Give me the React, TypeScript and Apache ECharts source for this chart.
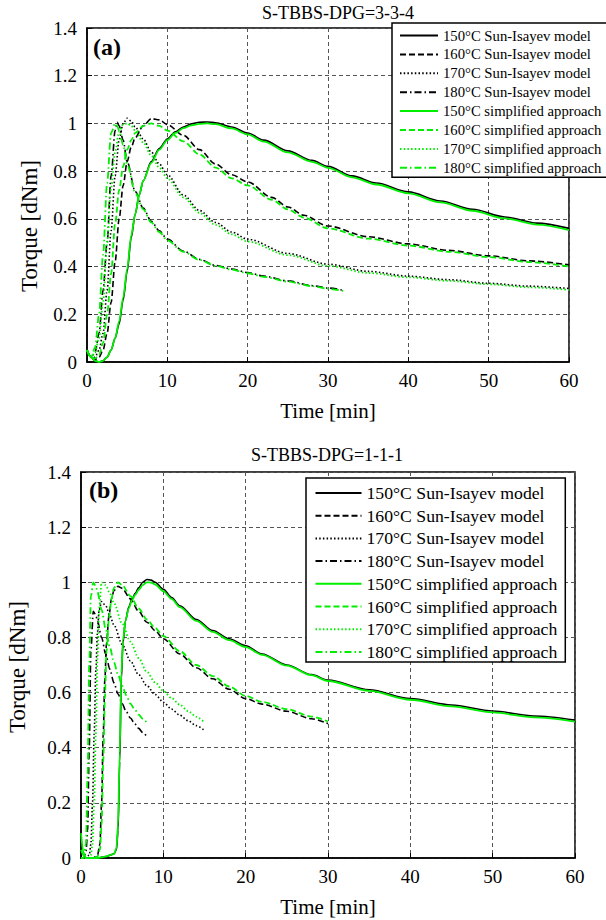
import React, { useEffect, useRef } from 'react';
import * as echarts from 'echarts';

const FONT = '"Liberation Serif", "Times New Roman", serif';
const BLACK = '#000000';
const GREEN = '#00ee00';

const NAMES = [
  '150°C Sun-Isayev model',
  '160°C Sun-Isayev model',
  '170°C Sun-Isayev model',
  '180°C Sun-Isayev model',
  '150°C simplified approach',
  '160°C simplified approach',
  '170°C simplified approach',
  '180°C simplified approach',
];

const X_TICKS = [0, 10, 20, 30, 40, 50, 60];
const Y_TICKS = [0, 0.2, 0.4, 0.6, 0.8, 1, 1.2, 1.4];

// ---------- Panel (a): S-TBBS-DPG=3-3-4 ----------
const aT150 = [0, 0.5, 1, 1.5, 2, 2.5, 3, 3.5, 4, 4.5, 5, 5.5, 6, 6.5, 7, 8, 9, 10, 11, 12, 13, 14, 15, 16, 18, 20, 22, 25, 28, 30, 33, 36, 40, 44, 48, 52, 56, 60];
const a150Sun = [0.05, 0.02, 0.005, 0.0, 0.005, 0.02, 0.05, 0.1, 0.16, 0.26, 0.38, 0.52, 0.62, 0.7, 0.76, 0.84, 0.895, 0.935, 0.965, 0.985, 0.998, 1.005, 1.006, 1.003, 0.985, 0.96, 0.93, 0.885, 0.845, 0.82, 0.78, 0.75, 0.713, 0.675, 0.64, 0.608, 0.582, 0.56];
const a150Simp = [0.05, 0.02, 0.005, 0.0, 0.005, 0.02, 0.05, 0.1, 0.17, 0.27, 0.39, 0.53, 0.62, 0.7, 0.76, 0.835, 0.89, 0.93, 0.96, 0.98, 0.992, 0.998, 1.0, 0.997, 0.979, 0.954, 0.924, 0.879, 0.839, 0.814, 0.774, 0.744, 0.707, 0.669, 0.634, 0.602, 0.576, 0.553];

const aT160 = [0, 0.5, 1, 1.5, 2, 2.5, 3, 3.5, 4, 4.5, 5, 5.5, 6, 7, 8, 9, 10, 12, 14, 16, 18, 20, 23, 25, 27, 30, 35, 40, 45, 50, 55, 60];
const a160Sun = [0.05, 0.02, 0.01, 0.02, 0.05, 0.12, 0.25, 0.42, 0.6, 0.74, 0.84, 0.9, 0.94, 0.99, 1.02, 1.015, 0.995, 0.95, 0.89, 0.83, 0.785, 0.755, 0.69, 0.65, 0.615, 0.57, 0.525, 0.495, 0.468, 0.445, 0.424, 0.407];
const a160Simp = [0.05, 0.02, 0.015, 0.03, 0.08, 0.2, 0.37, 0.58, 0.72, 0.82, 0.89, 0.93, 0.96, 0.99, 1.0, 0.99, 0.97, 0.925, 0.87, 0.815, 0.77, 0.74, 0.68, 0.64, 0.605, 0.56, 0.517, 0.488, 0.462, 0.44, 0.419, 0.4];

const aT170 = [0, 0.5, 1, 1.5, 2, 2.5, 3, 3.5, 4, 4.5, 5, 5.5, 6, 7, 8, 9, 10, 12, 14, 16, 18, 20, 25, 30, 35, 40, 45, 50, 55, 60];
const a170Sun = [0.05, 0.02, 0.02, 0.05, 0.12, 0.3, 0.55, 0.78, 0.93, 1.0, 1.022, 1.01, 0.985, 0.935, 0.88, 0.83, 0.785, 0.7, 0.635, 0.585, 0.545, 0.515, 0.455, 0.41, 0.38, 0.36, 0.345, 0.33, 0.318, 0.308];
const a170Simp = [0.05, 0.02, 0.04, 0.1, 0.25, 0.5, 0.73, 0.88, 0.965, 0.995, 1.0, 0.99, 0.97, 0.92, 0.865, 0.815, 0.77, 0.69, 0.625, 0.575, 0.535, 0.505, 0.448, 0.403, 0.373, 0.355, 0.34, 0.326, 0.313, 0.302];

const aT180 = [0, 0.5, 1, 1.5, 2, 2.5, 3, 3.5, 3.75, 4, 4.5, 5, 6, 7, 8, 9, 10, 12, 14, 16, 18, 20, 22, 25, 28, 30, 32];
const a180Sun = [0.05, 0.02, 0.04, 0.12, 0.3, 0.5, 0.78, 0.97, 1.005, 0.99, 0.93, 0.84, 0.715, 0.645, 0.59, 0.55, 0.515, 0.465, 0.43, 0.405, 0.39, 0.375, 0.36, 0.34, 0.32, 0.31, 0.3];
const a180Simp = [0.05, 0.02, 0.06, 0.2, 0.45, 0.75, 0.96, 1.0, 0.99, 0.97, 0.91, 0.83, 0.71, 0.64, 0.585, 0.545, 0.51, 0.462, 0.428, 0.403, 0.387, 0.372, 0.357, 0.337, 0.318, 0.307, 0.297];

// ---------- Panel (b): S-TBBS-DPG=1-1-1 ----------
const bT150 = [0, 0.3, 0.6, 1, 2, 3, 3.5, 4, 4.3, 4.5, 4.7, 4.9, 5.1, 5.4, 5.8, 6.2, 6.6, 7, 7.5, 8, 8.5, 9, 10, 11, 12, 14, 16, 18, 20, 22, 25, 28, 30, 35, 40, 45, 50, 55, 60];
const b150Sun = [0.0, 0.0, 0.0, 0.0, 0.0, 0.005, 0.01, 0.015, 0.03, 0.1, 0.35, 0.65, 0.78, 0.86, 0.91, 0.94, 0.96, 0.98, 1.0, 1.01, 1.008, 1.0, 0.975, 0.945, 0.915, 0.865, 0.825, 0.795, 0.77, 0.74, 0.7, 0.665, 0.645, 0.61, 0.578, 0.555, 0.533, 0.515, 0.5];
const b150Simp = [0.09, 0.02, 0.0, 0.0, 0.0, 0.005, 0.01, 0.015, 0.035, 0.12, 0.38, 0.67, 0.79, 0.86, 0.905, 0.935, 0.955, 0.972, 0.99, 1.0, 0.999, 0.992, 0.968, 0.94, 0.91, 0.86, 0.82, 0.79, 0.765, 0.737, 0.698, 0.663, 0.642, 0.606, 0.574, 0.55, 0.528, 0.51, 0.495];

const bT160 = [0, 0.5, 1, 1.5, 2, 2.3, 2.5, 2.7, 2.9, 3.1, 3.4, 3.7, 4, 4.5, 5, 6, 7, 8, 9, 10, 12, 14, 16, 18, 20, 22, 25, 28, 30];
const b160Sun = [0.0, 0.0, 0.0, 0.0, 0.01, 0.05, 0.2, 0.45, 0.65, 0.78, 0.88, 0.94, 0.97, 0.985, 0.978, 0.94, 0.895, 0.855, 0.825, 0.795, 0.74, 0.69, 0.65, 0.612, 0.578, 0.558, 0.532, 0.505, 0.487];
const b160Simp = [0.03, 0.0, 0.0, 0.0, 0.005, 0.03, 0.12, 0.35, 0.58, 0.75, 0.87, 0.94, 0.98, 1.0, 0.99, 0.95, 0.905, 0.865, 0.835, 0.805, 0.75, 0.7, 0.66, 0.622, 0.588, 0.566, 0.54, 0.513, 0.495];

const bT170 = [0, 0.5, 1, 1.2, 1.4, 1.6, 1.8, 2, 2.2, 2.5, 3, 3.5, 4, 5, 6, 7, 8, 9, 10, 11, 12, 13, 14, 15];
const b170Sun = [0.0, 0.0, 0.01, 0.05, 0.2, 0.45, 0.68, 0.82, 0.9, 0.93, 0.915, 0.88, 0.845, 0.775, 0.715, 0.665, 0.625, 0.593, 0.565, 0.54, 0.518, 0.498, 0.48, 0.463];
const b170Simp = [0.0, 0.0, 0.0, 0.01, 0.05, 0.2, 0.45, 0.72, 0.9, 1.0, 0.99, 0.96, 0.925, 0.85, 0.785, 0.725, 0.675, 0.637, 0.606, 0.58, 0.556, 0.533, 0.512, 0.492];

const bT180 = [0, 0.3, 0.6, 0.8, 1, 1.2, 1.5, 1.8, 2, 2.5, 3, 3.5, 4, 4.5, 5, 5.5, 6, 6.5, 7, 7.5, 8];
const b180Sun = [0.0, 0.0, 0.02, 0.1, 0.4, 0.75, 0.895, 0.88, 0.86, 0.8, 0.74, 0.685, 0.635, 0.595, 0.56, 0.53, 0.508, 0.488, 0.47, 0.455, 0.44];
const b180Simp = [0.0, 0.0, 0.05, 0.3, 0.7, 0.95, 1.0, 0.985, 0.965, 0.9, 0.83, 0.765, 0.71, 0.665, 0.625, 0.59, 0.56, 0.54, 0.52, 0.505, 0.49];

const DASHES: (string | number[])[] = ['solid', [6, 3], [1.5, 2.2], [7, 3, 1.5, 3]];

function pairs(t: number[], v: number[]) {
  return t.map((x, i) => [x, v[i]]);
}

function makeSeries(panel: number, sets: [number[], number[]][]) {
  return sets.map(([t, v], i) => {
    const isGreen = i >= 4;
    return {
      name: NAMES[i],
      type: 'line',
      xAxisIndex: panel,
      yAxisIndex: panel,
      data: pairs(t, v),
      symbol: 'none',
      showSymbol: false,
      smooth: 0.3,
      smoothMonotone: 'x',
      z: isGreen ? 3 : 2,
      lineStyle: {
        color: isGreen ? GREEN : BLACK,
        width: isGreen ? 1.8 : 1.6,
        type: DASHES[i % 4],
      },
      itemStyle: { color: isGreen ? GREEN : BLACK },
    };
  });
}

function xAxis(grid: number, nameGap: number) {
  return {
    gridIndex: grid,
    type: 'value',
    min: X_TICKS[0],
    max: X_TICKS[X_TICKS.length - 1],
    interval: 10,
    name: 'Time [min]',
    nameLocation: 'middle',
    nameGap,
    nameTextStyle: { fontFamily: FONT, fontSize: 21, color: BLACK },
    axisLine: { show: true, lineStyle: { color: BLACK, width: 1.5 } },
    axisTick: { show: true, inside: true, length: 5, lineStyle: { color: BLACK } },
    axisLabel: { fontFamily: FONT, fontSize: 19, color: BLACK, margin: 9 },
    splitLine: { show: true, lineStyle: { color: '#555555', width: 1, type: [4, 3] } },
  };
}

function yAxis(grid: number) {
  return {
    gridIndex: grid,
    type: 'value',
    min: Y_TICKS[0],
    max: Y_TICKS[Y_TICKS.length - 1],
    interval: 0.2,
    axisLine: { show: true, lineStyle: { color: BLACK, width: 1.5 } },
    axisTick: { show: true, inside: true, length: 5, lineStyle: { color: BLACK } },
    axisLabel: { fontFamily: FONT, fontSize: 19, color: BLACK, margin: 10 },
    splitLine: { show: true, lineStyle: { color: '#555555', width: 1, type: [4, 3] } },
  };
}

function legend(left: number, top: number, itemWidth: number, fontSize: number, lineHeight: number, itemGap: number, padding: number[]) {
  return {
    data: NAMES,
    orient: 'vertical',
    left,
    top,
    itemWidth,
    itemHeight: 10,
    itemGap,
    padding,
    backgroundColor: '#ffffff',
    borderColor: BLACK,
    borderWidth: 1.5,
    borderRadius: 0,
    itemStyle: { opacity: 0, borderWidth: 0, color: 'rgba(0,0,0,0)' },
    textStyle: { fontFamily: FONT, fontSize, lineHeight, color: BLACK },
  };
}

export default function App() {
  const ref = useRef<HTMLDivElement>(null);
  useEffect(() => {
    if (!ref.current) return;
    const chart = echarts.init(ref.current, undefined, { renderer: 'svg' });
    const seriesA = makeSeries(0, [
      [aT150, a150Sun], [aT160, a160Sun], [aT170, a170Sun], [aT180, a180Sun],
      [aT150, a150Simp], [aT160, a160Simp], [aT170, a170Simp], [aT180, a180Simp],
    ]);
    const seriesB = makeSeries(1, [
      [bT150, b150Sun], [bT160, b160Sun], [bT170, b170Sun], [bT180, b180Sun],
      [bT150, b150Simp], [bT160, b160Simp], [bT170, b170Simp], [bT180, b180Simp],
    ]);
    chart.setOption({
      animation: false,
      backgroundColor: '#ffffff',
      textStyle: { fontFamily: FONT },
      grid: [
        { left: 87, top: 28, width: 482, height: 334, show: true, borderColor: BLACK, borderWidth: 1.5, backgroundColor: 'transparent' },
        { left: 81, top: 472, width: 494, height: 386, show: true, borderColor: BLACK, borderWidth: 1.5, backgroundColor: 'transparent' },
      ],
      xAxis: [xAxis(0, 38), xAxis(1, 38)],
      yAxis: [yAxis(0), yAxis(1)],
      legend: [
        legend(392, 23, 38, 14.7, 15, 3.9, [5, 8, 2, 7]),
        legend(306, 478, 46, 17.7, 18, 4.7, [6, 8, 1, 8.5]),
      ],
      graphic: [
        { type: 'text', x: 338, y: 13, style: { text: 'S-TBBS-DPG=3-3-4', fontFamily: FONT, fontSize: 18, fill: BLACK, textAlign: 'center', textVerticalAlign: 'middle' } },
        { type: 'text', x: 327, y: 455, style: { text: 'S-TBBS-DPG=1-1-1', fontFamily: FONT, fontSize: 18, fill: BLACK, textAlign: 'center', textVerticalAlign: 'middle' } },
        { type: 'text', x: 93, y: 47, z: 10, style: { text: '(a)', fontFamily: FONT, fontSize: 24, fontWeight: 'bold', fill: BLACK, textAlign: 'left', textVerticalAlign: 'middle' } },
        { type: 'text', x: 89, y: 490, z: 10, style: { text: '(b)', fontFamily: FONT, fontSize: 24, fontWeight: 'bold', fill: BLACK, textAlign: 'left', textVerticalAlign: 'middle' } },
        { type: 'text', x: 29, y: 226, rotation: Math.PI / 2, style: { text: 'Torque [dNm]', fontFamily: FONT, fontSize: 23, fill: BLACK, textAlign: 'center', textVerticalAlign: 'middle' } },
        { type: 'text', x: 17, y: 667, rotation: Math.PI / 2, style: { text: 'Torque [dNm]', fontFamily: FONT, fontSize: 23, fill: BLACK, textAlign: 'center', textVerticalAlign: 'middle' } },
      ],
      series: [...seriesA, ...seriesB],
    });
    return () => chart.dispose();
  }, []);
  return <div ref={ref} style={{ position: 'absolute', left: 0, top: 0, width: 606, height: 920 }} />;
}
